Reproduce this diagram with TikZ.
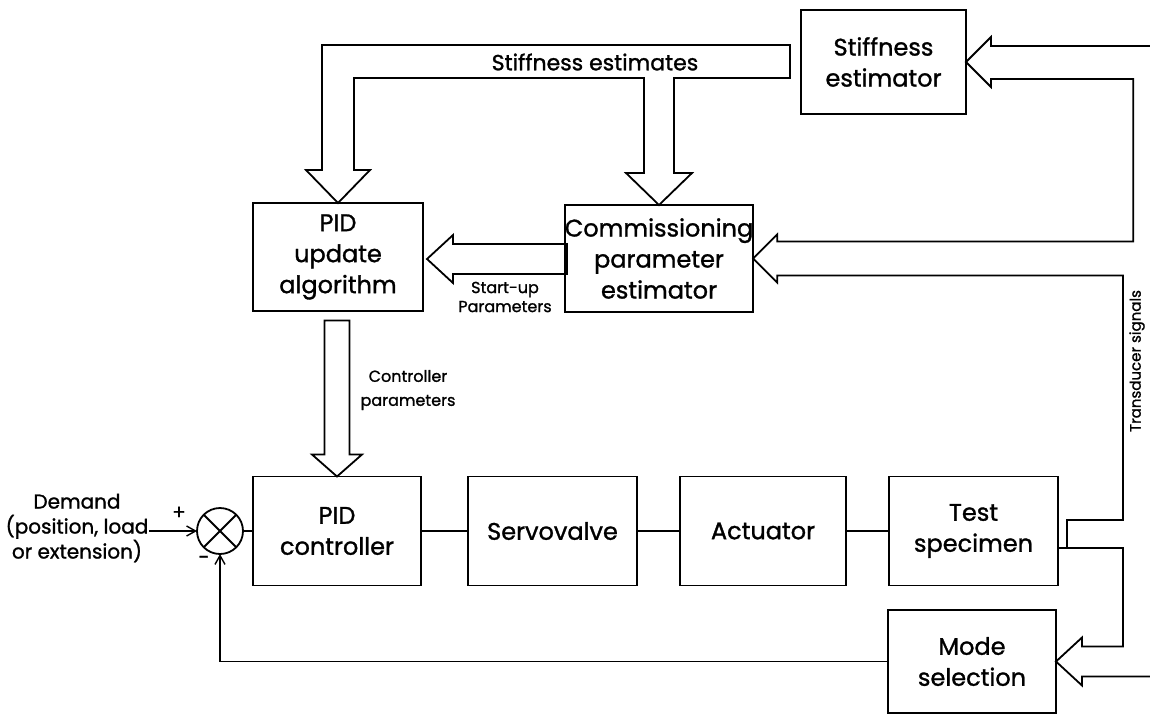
\documentclass[tikz,border=0pt]{standalone}
\usepackage{fontspec}
\setmainfont{Poppins}[FakeBold=1.2]
\usetikzlibrary{calc,arrows.meta}
\begin{document}
\begin{tikzpicture}[x=1pt,y=-1pt,
  every node/.style={inner sep=0pt,outer sep=0pt},
  blk/.style={draw,line width=1.8pt,align=center,font=\fontsize{24}{31}\selectfont},
  hol/.style={draw,line width=1.8pt,line join=miter},
  wire/.style={draw,line width=1.8pt},
  lbl/.style={align=center,font=\fontsize{17}{23}\selectfont},
  tipa/.style={-{Straight Barb[length=9pt,width=10pt,line width=1.4pt]}}
]
\useasboundingbox[fill=white] (0,0) rectangle (1150,716);

% blocks
\node[blk,minimum width=165pt,minimum height=104pt] (stiff) at (883.5,62) {Stiffness\\estimator};
\node[blk,minimum width=170pt,minimum height=108pt] (pidu) at (338,257) {PID\\update\\algorithm};
\node[blk,minimum width=168pt,minimum height=107pt] (comm) at (659,258.5) {Commissioning\\parameter\\estimator};
\node[blk,minimum width=168pt,minimum height=109pt] (pidc) at (337,531) {PID\\controller};
\node[blk,minimum width=169pt,minimum height=109pt] (servo) at (552.5,531) {Servovalve};
\node[blk,minimum width=166pt,minimum height=109pt] (act) at (763,531) {Actuator};
\node[blk,minimum width=169pt,minimum height=109pt] (test) at (973.5,531) {Test\\specimen};
\node[blk,minimum width=168pt,minimum height=103pt] (mode) at (972,661.5) {Mode\\selection};

% summing junction
\node[circle,draw,line width=1.8pt,minimum size=46pt] (sum) at (220,531) {};
\draw[wire] (sum.north east) -- (sum.south west) (sum.north west) -- (sum.south east);

% demand input
\node[lbl,font=\fontsize{20}{25}\selectfont] (demand) at (77,528) {Demand\\(position, load\\or extension)};
\coordinate (din) at (149,531);
\draw[wire,tipa] (din) -- (sum.west);
\node (plus) at (179,513) {\fontsize{20}{20}\selectfont +};
\node (minus) at (204,560) {\fontsize{20}{20}\selectfont -};

% forward path
\draw[wire] (sum.east) -- (pidc.west);
\draw[wire] (pidc.east) -- (servo.west);
\draw[wire] (servo.east) -- (act.west);
\draw[wire] (act.east) -- (test.west);

% feedback
\draw[wire,tipa] (mode.west) -| (sum.south);

% stiffness estimates band (hollow, two heads)
\coordinate (t1) at (pidu.north);
\coordinate (t2) at (comm.north);
\draw[hol] (t1) -- ++(32,-33) -- ++(-16,0) |- ($(t2)+(-15,-127)$) -- ++(0,95) -- ++(-18,0)
  -- (t2) -- ++(33,-32) -- ++(-18,0) |- (790,78) -- (790,45) -| ($(t1)+(-16,-33)$) -- ++(-16,0) -- cycle;
\node[font=\fontsize{22}{22}\selectfont] (se) at (595,62) {Stiffness estimates};

% start-up parameters arrow
\coordinate (t6) at ($(pidu.east)+(4,2)$);
\draw[hol] (t6) -- ++(26,-24) -- ++(0,9) -- ++(114,0) -- ++(0,30) -- ++(-114,0) -- ++(0,9) -- cycle;
\node[lbl,font=\fontsize{16}{19}\selectfont] (sup) at (505,297) {Start-up\\Parameters};

% controller parameters arrow
\draw[hol] (pidc.north) -- ++(-25,-22) -- ++(12.5,0) -- ++(0,-134) -- ++(25,0) -- ++(0,134) -- ++(12.5,0) -- cycle;
\node[lbl,font=\fontsize{16}{24}\selectfont] (cp) at (408,390) {Controller\\parameters};

% transducer bus on the right
\coordinate (t3) at (stiff.east);
\coordinate (t4) at (comm.east);
\coordinate (t5) at (mode.east);
\draw[hol] (1150,46) -- ($(t3)+(25,-16)$) -- ++(0,-9) -- (t3) -- ++(25,25) -- ++(0,-8)
  -| ($(t4)+(380,-17)$) -- ($(t4)+(24,-17)$) -- ++(0,-7) -- (t4) -- ++(24,24) -- ++(0,-7)
  -| (1123,520) -- (1067,520) -- (1067,548);
\draw[hol] (test.east |- 0,548) -- (1123,548) |- ($(t5)+(26,-15)$) -- ++(0,-9) -- (t5)
  -- ++(26,24) -- ++(0,-9) -- (1150,676.5);
\node[rotate=90,font=\fontsize{15}{15}\selectfont] (ts) at (1137,361) {Transducer signals};
\end{tikzpicture}
\end{document}
